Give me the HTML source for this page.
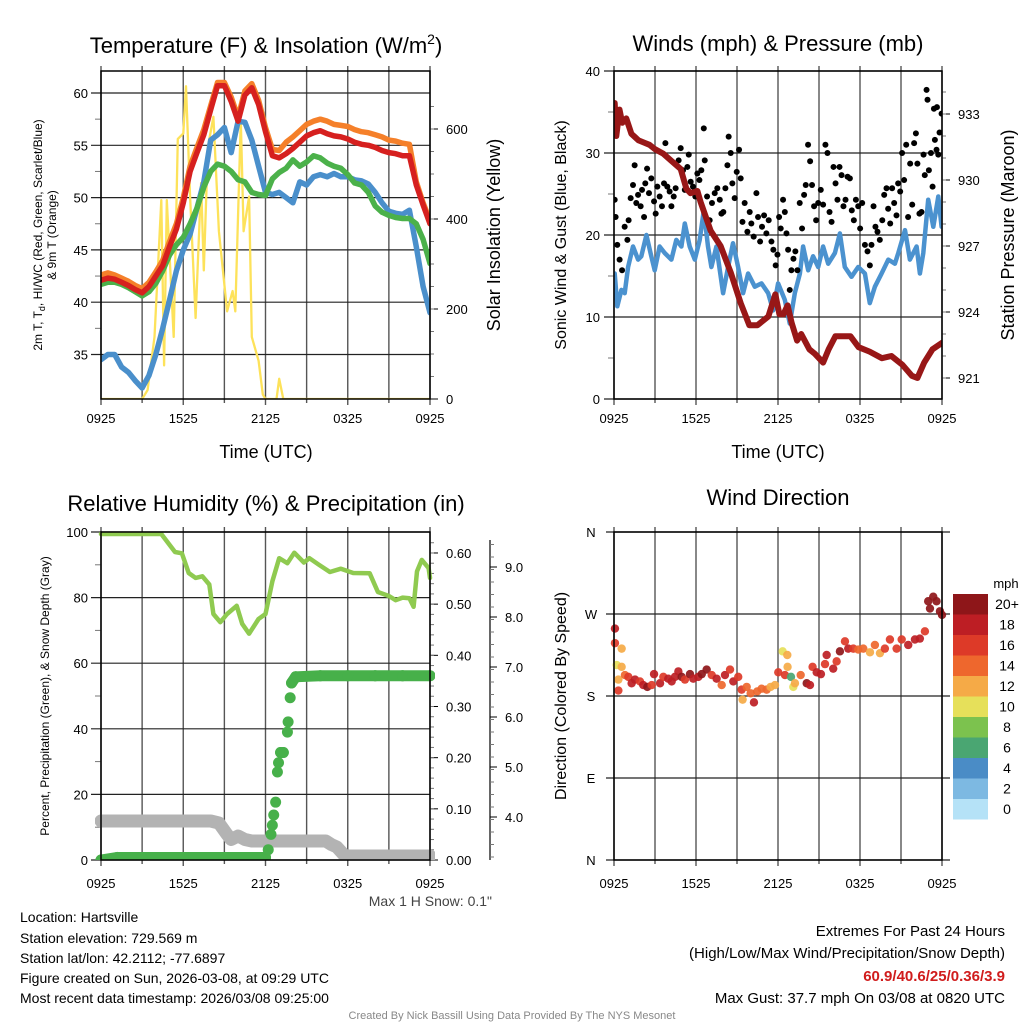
<!DOCTYPE html>
<html><head><meta charset="utf-8"><title>Mesonet Station Plots</title>
<style>
html,body{margin:0;padding:0;background:#fff;}
svg{display:block;font-family:"Liberation Sans",Arial,sans-serif;}
</style></head>
<body>
<svg id="chart" xmlns="http://www.w3.org/2000/svg" width="1024" height="1024" viewBox="0 0 1024 1024">
<rect x="0" y="0" width="1024" height="1024" fill="#fff"/>
<defs>
<clipPath id="c1"><rect x="101" y="71" width="329" height="328"/></clipPath>
<clipPath id="c2"><rect x="614" y="71" width="328" height="328"/></clipPath>
<clipPath id="c3"><rect x="95" y="532" width="340" height="328"/></clipPath>
<clipPath id="c4"><rect x="608" y="532" width="340" height="328"/></clipPath>
</defs>
<text x="266" y="53" font-size="22" text-anchor="middle">Temperature (F) &amp; Insolation (W/m<tspan font-size="14" dy="-9">2</tspan><tspan dy="9">)</tspan></text>
<text x="778" y="51" font-size="22" text-anchor="middle">Winds (mph) &amp; Pressure (mb)</text>
<text x="266" y="511" font-size="22" text-anchor="middle">Relative Humidity (%) &amp; Precipitation (in)</text>
<text x="778" y="505" font-size="22" text-anchor="middle">Wind Direction</text>

<text x="266" y="458" font-size="18" text-anchor="middle">Time (UTC)</text>
<text x="778" y="458" font-size="18" text-anchor="middle">Time (UTC)</text>

<text transform="translate(42,235) rotate(-90)" font-size="12" text-anchor="middle">2m T, T<tspan font-size="9" dy="3">d</tspan><tspan dy="-3">, HI/WC (Red, Green, Scarlet/Blue)</tspan></text>
<text transform="translate(56,235) rotate(-90)" font-size="12" text-anchor="middle">&amp; 9m T (Orange)</text>
<text transform="translate(500,235) rotate(-90)" font-size="18" text-anchor="middle">Solar Insolation (Yellow)</text>
<text transform="translate(566,235) rotate(-90)" font-size="16" text-anchor="middle">Sonic Wind &amp; Gust (Blue, Black)</text>
<text transform="translate(1014,235) rotate(-90)" font-size="18" text-anchor="middle">Station Pressure (Maroon)</text>
<text transform="translate(49,696) rotate(-90)" font-size="12" text-anchor="middle">Percent, Precipitation (Green), &amp; Snow Depth (Gray)</text>
<text transform="translate(566,696) rotate(-90)" font-size="16" text-anchor="middle">Direction (Colored By Speed)</text>

<text x="492" y="906" font-size="14" fill="#444" text-anchor="end">Max 1 H Snow: 0.1"</text>

<g font-size="14">
<text x="20" y="922">Location: Hartsville</text>
<text x="20" y="943">Station elevation: 729.569 m</text>
<text x="20" y="963">Station lat/lon: 42.2112; -77.6897</text>
<text x="20" y="983">Figure created on Sun, 2026-03-08, at 09:29 UTC</text>
<text x="20" y="1003">Most recent data timestamp: 2026/03/08 09:25:00</text>
</g>
<g font-size="15" text-anchor="end">
<text x="1005" y="936">Extremes For Past 24 Hours</text>
<text x="1005" y="958">(High/Low/Max Wind/Precipitation/Snow Depth)</text>
<text x="1005" y="981" fill="#d01c1c" font-weight="bold">60.9/40.6/25/0.36/3.9</text>
<text x="1005" y="1003">Max Gust: 37.7 mph On 03/08 at 0820 UTC</text>
</g>
<text x="512" y="1019" font-size="11" fill="#888" text-anchor="middle">Created By Nick Bassill Using Data Provided By The NYS Mesonet</text>

<g id="g1"></g>
<g id="g2"></g>
<g id="g3"></g>
<g id="g4"></g>
</svg>
<script>
// ---------- data ----------
const xTickLabels = ["0925","1525","2125","0325","0925"];
const tempHours = [0,0.5,1,1.5,2,2.5,3,3.5,4,4.5,5,5.5,6,6.5,7,7.5,8,8.5,9,9.5,10,10.5,11,11.5,12,12.5,13,13.5,14,14.5,15,15.5,16,16.5,17,17.5,18,18.5,19,19.5,20,20.5,21,21.5,22,22.5,23,23.5,24];
const tempRed = [42.1,42.3,42.2,41.9,41.6,41.2,40.9,41.5,42.5,43.5,45.3,47,49.5,52.5,54.3,56,58.4,60.7,60.7,59.2,57.3,59.8,60.5,58.9,56.3,54,53.8,54.2,54.7,55.3,55.9,56.2,56.4,56.1,55.9,55.8,55.6,55.3,55.1,55,54.8,54.5,54.3,54.2,54,54,51.2,49.3,47.5];
const tempOrange = [42.6,42.8,42.6,42.3,42,41.6,41.3,41.9,42.9,44,45.8,47.5,50,53,54.8,56.5,58.8,61,61,59.6,57.7,60.2,60.9,59.3,56.7,54.6,54.5,55.3,55.8,56.4,57,57.3,57.5,57.3,57,56.9,56.8,56.5,56.3,56.2,56,55.8,55.5,55.4,55.2,55.1,51.5,49.5,47.8];
const tempGreen = [41.7,41.9,41.9,41.7,41.4,41,40.6,41,41.8,43,44.5,45.5,46.2,47.5,49,51,52.5,53.2,53,52.5,51.7,51.5,50.5,50.3,50.2,51.8,52.4,52.8,53.6,53,53.4,54,53.8,53.3,53,52.8,52.2,51.4,51.2,50.5,49.2,48.6,48.3,48.1,48,48,47.5,46,43.7];
const tempBlue = [34.5,35,35,33.8,33.3,32.5,31.8,33,35,37.5,40.2,43,45,46.5,49,51.5,55.5,56,56.7,54.3,57.3,57.2,55.5,53,50.5,50.3,50.5,50,49.5,51.5,51.2,52,52.2,52,52.3,52,52,51.7,51.6,51.3,50.5,49.5,48.7,48.5,48.4,48.8,45.3,41.5,39];
const solarHours = [0,3.0,3.1,3.4,3.9,4.4,4.6,4.8,5.3,5.6,6.0,6.2,6.5,6.9,7.3,7.5,7.8,8.2,8.6,9.2,9.6,9.8,10.2,10.4,10.8,11.0,11.5,11.8,12.0,12.8,13.0,13.3,24];
const solarValues = [0,0,5,20,138,442,75,442,138,578,590,695,450,180,480,286,560,627,373,195,240,195,620,373,450,138,85,10,0,0,45,0,0];
const tempTicks = [35,40,45,50,55,60];
const solarTicks = [0,200,400,600];

const windHours = [0.05,0.24,0.54,0.78,1.03,1.39,1.76,2.0,2.37,2.73,2.98,3.34,3.71,4.2,4.56,4.93,5.18,5.54,5.91,6.27,6.57,6.88,7.13,7.49,7.98,8.35,8.71,9.08,9.45,9.81,10.3,10.79,11.28,11.64,12.01,12.5,12.86,13.23,13.6,13.84,14.21,14.57,14.94,15.3,15.67,16.16,16.53,16.89,17.38,17.87,18.36,18.72,19.09,19.58,20.07,20.55,20.8,21.29,21.65,22.14,22.38,22.63,22.99,23.36,23.73,23.97];
const windSpeed = [15.3,11.3,13.3,12.9,16.1,18.6,17.0,17.4,20.0,17.4,15.7,18.6,17.8,17.0,19.4,18.6,21.4,18.6,17.0,19.4,23.0,18.6,16.1,18.6,12.9,16.1,19.0,16.1,12.9,15.3,13.7,14.1,12.9,10.8,14.1,12.1,9.2,12.9,15.3,18.6,15.7,17.4,16.1,18.6,16.5,17.8,20.2,16.1,14.9,16.1,15.3,11.7,13.7,15.3,17.0,16.5,17.8,20.6,17.0,18.6,15.3,17.8,24.3,21.0,24.7,21.0];
const gustHours = [0.05,0.12,0.24,0.41,0.59,0.78,0.98,1.07,1.22,1.39,1.51,1.63,1.76,1.95,2.05,2.2,2.29,2.42,2.56,2.73,2.93,3.05,3.17,3.34,3.51,3.66,3.76,3.9,4.07,4.2,4.37,4.51,4.73,4.88,5.05,5.18,5.37,5.47,5.61,5.78,5.95,6.1,6.25,6.39,6.57,6.64,6.81,7.0,7.17,7.37,7.56,7.74,7.86,8.0,8.15,8.3,8.39,8.54,8.66,8.83,8.98,9.15,9.27,9.4,9.56,9.76,9.93,10.05,10.22,10.42,10.54,10.69,10.83,10.98,11.15,11.32,11.52,11.66,11.83,11.96,12.08,12.2,12.37,12.5,12.62,12.74,12.86,12.98,13.13,13.27,13.42,13.59,13.76,13.91,14.03,14.2,14.35,14.49,14.64,14.79,14.94,15.13,15.3,15.47,15.62,15.77,15.92,16.06,16.21,16.35,16.5,16.65,16.79,16.94,17.09,17.26,17.4,17.55,17.7,17.87,18.01,18.16,18.36,18.55,18.72,18.84,18.99,19.13,19.28,19.45,19.63,19.77,19.94,20.06,20.21,20.35,20.5,20.67,20.79,20.94,21.08,21.23,21.38,21.52,21.67,21.82,21.96,22.09,22.2,22.35,22.5,22.65,22.74,22.87,22.94,23.04,23.19,23.31,23.41,23.48,23.63,23.73,23.82,23.97,23.6];
const gustSpeed = [24.3,22.2,18.8,17.0,15.7,21.0,19.4,21.8,24.5,26.1,28.5,23.9,24.9,23.5,25.5,22.2,26.3,28.1,25.1,26.9,24.1,22.6,25.9,24.7,23.5,26.3,31.2,25.9,25.3,23.5,24.7,25.7,29.1,30.6,27.9,25.5,28.3,29.8,26.5,25.9,24.7,27.5,26.7,27.9,33.0,29.1,24.7,21.8,23.9,25.1,25.7,24.3,22.6,22.8,25.7,28.5,32.0,30.0,26.3,24.5,27.7,30.4,26.9,21.6,23.9,20.4,22.8,21.4,19.8,25.1,22.2,19.2,21.0,22.4,20.2,21.8,19.2,18.2,16.3,17.6,22.2,20.8,24.3,22.8,20.2,18.2,13.3,15.7,17.1,18.0,15.7,23.9,20.8,24.9,26.1,31.0,29.0,26.1,23.5,21.8,23.9,25.5,23.7,31.0,30.0,22.8,21.6,28.3,26.3,24.3,28.3,27.3,23.5,24.3,27.1,26.9,23.0,21.8,24.3,23.5,20.8,23.9,18.8,18.0,16.3,18.8,23.5,21.0,20.4,19.4,21.8,24.9,25.7,23.2,21.4,25.7,23.9,22.4,26.3,25.3,30.0,26.7,31.0,22.2,28.7,23.7,31.2,32.4,28.7,22.6,22.8,29.8,27.3,37.7,36.5,27.9,30.0,25.9,35.4,31.6,35.6,29.8,32.5,34.8,30.4];
const presHours = [0.05,0.17,0.4,0.6,0.9,1.27,1.8,2.2,2.6,3.0,3.6,4.15,4.88,5.3,5.6,6.1,6.34,7.07,7.8,8.54,9.27,9.9,10.5,11.3,11.8,12.1,12.4,12.7,13.0,13.4,13.7,14.3,14.7,15.3,15.7,16.2,16.8,17.3,17.9,18.7,19.6,20.3,21.1,21.8,22.2,22.7,23.3,24];
const presValues = [933.5,932.0,933.2,932.6,932.8,932.1,931.8,931.7,931.6,931.4,931.2,930.9,930.5,929.6,929.4,929.5,929.0,927.7,927.0,925.8,924.4,923.4,923.4,923.8,924.8,923.9,923.9,924.3,923.5,922.7,923.0,922.3,922.1,921.7,922.3,922.9,922.9,922.9,922.4,922.2,921.9,922.0,921.6,921.1,921.0,921.7,922.3,922.6];
const windTicks = [0,10,20,30,40];
const presTicks = [921,924,927,930,933];

const rhHours = [0,4.4,5.4,5.9,6.4,6.9,7.4,7.9,8.2,8.7,9.2,9.9,10.3,10.8,11.5,12,12.5,13,13.6,14.1,14.8,15.2,15.9,16.7,17.5,18.4,19.6,20.2,21,21.5,22,22.5,22.8,23.05,23.4,23.9,24];
const rhValues = [99.4,99.4,93.9,93.5,87.5,86,86.5,84,75,72.5,75,77.5,72,69,73.5,75,85,92,90.5,93.7,90.7,92,90,87.8,88.8,87.5,87.4,81.7,80.5,79.2,80,79.8,77.2,88,91.5,89,86];
const precipHours = [0,1.2,3,6,9,12,12.2,12.4,12.5,12.6,12.74,12.87,12.95,13.1,13.3,13.6,13.65,13.8,13.9,14.2,16,18,20,22,24];
const precipValues = [0,0.005,0.005,0.005,0.005,0.005,0.02,0.05,0.068,0.088,0.113,0.172,0.19,0.21,0.21,0.25,0.27,0.317,0.346,0.358,0.36,0.36,0.36,0.36,0.36];
const snowHours = [0,8,8.6,9.2,9.5,10,10.5,11,16.4,16.8,17.2,17.8,24];
const snowValues = [3.92,3.92,3.88,3.65,3.55,3.62,3.55,3.52,3.52,3.45,3.4,3.22,3.22];
const rhTicks = [0,20,40,60,80,100];
const precipTicks = ["0.00","0.10","0.20","0.30","0.40","0.50","0.60"];
const snowTicks = ["4.0","5.0","6.0","7.0","8.0","9.0"];

const dirHours = [0.07,0.07,0.56,0.2,0.56,0.32,0.32,0.8,1.05,1.29,1.54,1.9,2.14,2.44,2.76,2.93,3.37,3.61,3.97,4.22,4.46,4.71,4.95,5.19,5.56,5.8,6.17,6.42,6.78,7.15,7.51,7.88,8.12,8.49,8.73,9.09,9.34,9.41,9.71,10.0,10.24,10.48,10.8,11.17,11.46,11.78,12.02,12.34,12.68,12.7,12.51,12.95,13.12,13.24,13.66,14.1,14.34,14.53,14.83,15.14,15.44,15.56,16.04,16.29,16.53,16.9,17.14,17.51,17.87,18.24,18.73,19.09,19.46,19.82,20.19,20.68,21.05,21.53,22.02,22.38,22.75,22.99,23.36,23.12,23.6,23.85,24.0];
const dirDegrees = [254,238,232,214,212,198,186,203,201,194,198,196,192,190,192,204,194,201,199,196,201,207,201,198,204,199,201,204,209,203,199,192,203,209,196,201,187,176,190,183,173,185,188,187,190,192,206,229,225,212,203,201,190,194,203,194,192,212,206,204,215,225,210,218,229,240,232,232,231,232,228,236,227,232,242,232,242,236,242,243,251,284,289,276,284,273,269];
const dirSpeed = [18,16,12,10,12,12,16,14,16,18,18,16,18,20,16,18,18,16,18,18,18,18,20,16,20,18,18,20,20,16,18,14,18,16,18,16,16,12,14,14,18,14,14,14,12,12,16,10,12,12,16,6,10,12,14,20,18,16,18,18,16,18,18,16,20,16,18,16,14,14,12,14,12,16,16,16,16,18,18,18,16,20,20,20,20,20,20];
const dirTicks = ["N","W","S","E","N"];
const speedBins = ["0","2","4","6","8","10","12","14","16","18","20+"];
const speedColors = ["#b5e2f7","#7db9e2","#4a8cc6","#4aa672","#7cc24e","#e6e05a","#f5aa47","#ee672d","#dd3a28","#bd1e24","#8e1619"];

// ---------- helpers ----------
const NS = "http://www.w3.org/2000/svg";
function mk(parent, tag, attrs){const e=document.createElementNS(NS,tag);for(const k in attrs)e.setAttribute(k,attrs[k]);parent.appendChild(e);return e;}
function txt(parent, x, y, s, size, anchor){const t=mk(parent,"text",{x:x,y:y,"font-size":size,"text-anchor":anchor});t.textContent=s;return t;}
const X1=h=>101+h*(329/24);
const X2=h=>614+h*(328/24);
const yT=v=>93+(60-v)*10.46;
const yS=w=>399-w*0.45;
const yW=m=>399-m*8.2;
const yP=p=>114+(933-p)*22;
const yRH=v=>860-v*3.28;
const yPr=v=>860-v*511.7;
const ySn=s=>817-(s-4)*50;
const yDir=i=>532+i*82;

function frame(g,x0,y0,w,h,xs,name,lblOff){
  const gridG=mk(g,"g",{});
  
  
  for(let i=0;i<=8;i++){const x=x0+i*w/8;
    const l=mk(gridG,"line",{x1:x,y1:y0-5,x2:x,y2:y0+h+(i%2===0?6:4),stroke:"#555","stroke-width":1.4});
    
    
  }
  for(let i=0;i<5;i++){
    const t=txt(g,x0+i*w/4,y0+h+lblOff,xTickLabels[i],13,"middle");
    
    
  }
  return gridG;
}
function hline(g,x0,x1,y){
  const l=mk(g,"line",{x1:x0,y1:y,x2:x1,y2:y,stroke:"#222","stroke-width":1.2});
  
  
}
function border(g,x,y,w,h){
  const r=mk(g,"rect",{x:x,y:y,width:w,height:h,fill:"none",stroke:"#000","stroke-width":1.5});
  
  
}
function poly(g,xs,ys,fx,fy,color,w,name,clip){
  const pts=xs.map((h,i)=>fx(h).toFixed(1)+","+fy(ys[i]).toFixed(1)).join(" ");
  const p=mk(g,"polyline",{points:pts,fill:"none",stroke:color,"stroke-width":w,"stroke-linejoin":"round","stroke-linecap":"round","clip-path":clip});
  
  
  return p;
}

// ---------- panel 1 ----------
const g1=document.getElementById("g1");
frame(g1,101,71,329,328,X1,"temp",24);
tempTicks.forEach(v=>{hline(g1,91,430,yT(v));
  const t=txt(g1,88,yT(v)+5,String(v),13,"end");
  
  });
[37.5,42.5,47.5,52.5,57.5].forEach(v=>{mk(g1,"line",{x1:95,x2:101,y1:yT(v),y2:yT(v),stroke:"#777"});});
solarTicks.forEach(v=>{mk(g1,"line",{x1:430,x2:438,y1:yS(v),y2:yS(v),stroke:"#000"});
  const t=txt(g1,446,yS(v)+5,String(v),13,"start");
  
  });
for(let v=50;v<=650;v+=50){mk(g1,"line",{x1:430,x2:434,y1:yS(v),y2:yS(v),stroke:"#777"});}
poly(g1,solarHours,solarValues,X1,yS,"#fde25a",2.3,"solar-line","url(#c1)");
poly(g1,tempHours,tempBlue,X1,yT,"#4a8fcb",5.5,"dewpoint-line","url(#c1)");
poly(g1,tempHours,tempGreen,X1,yT,"#4bb14a",5.5,"heat-index-line","url(#c1)");
poly(g1,tempHours,tempOrange,X1,yT,"#f5802a",5.5,"temp-9m-line","url(#c1)");
poly(g1,tempHours,tempRed,X1,yT,"#d6201f",5.5,"temp-2m-line","url(#c1)");
border(g1,101,71,329,328);

// ---------- panel 2 ----------
const g2=document.getElementById("g2");
frame(g2,614,71,328,328,X2,"winds",24);
windTicks.forEach(v=>{hline(g2,604,942,yW(v));
  const t=txt(g2,600,yW(v)+5,String(v),13,"end");
  
  });
[5,15,25,35].forEach(v=>{mk(g2,"line",{x1:608,x2:614,y1:yW(v),y2:yW(v),stroke:"#777"});});
presTicks.forEach(v=>{mk(g2,"line",{x1:942,x2:950,y1:yP(v),y2:yP(v),stroke:"#000"});
  const t=txt(g2,958,yP(v)+5,String(v),13,"start");
  
  });
for(let v=920;v<=935;v++){if(yP(v)>71&&yP(v)<399)mk(g2,"line",{x1:942,x2:946,y1:yP(v),y2:yP(v),stroke:"#777"});}
poly(g2,windHours,windSpeed,X2,yW,"#4b92cf",4.5,"sonic-wind-line","url(#c2)");
gustHours.forEach((h,i)=>{
  const c=mk(g2,"circle",{cx:X2(h),cy:yW(gustSpeed[i]),r:3,fill:"#000","clip-path":"url(#c2)"});
  
  
});
poly(g2,presHours,presValues,X2,yP,"#981717",6,"pressure-line","url(#c2)");
border(g2,614,71,328,328);

// ---------- panel 3 ----------
const g3=document.getElementById("g3");
frame(g3,101,532,329,328,X1,"humidity",28);
rhTicks.forEach(v=>{hline(g3,91,430,yRH(v));
  const t=txt(g3,88,yRH(v)+5,String(v),13,"end");
  
  });
[10,30,50,70,90].forEach(v=>{mk(g3,"line",{x1:95,x2:101,y1:yRH(v),y2:yRH(v),stroke:"#777"});});
precipTicks.forEach(s=>{const v=parseFloat(s);mk(g3,"line",{x1:430,x2:438,y1:yPr(v),y2:yPr(v),stroke:"#000"});
  const t=txt(g3,446,yPr(v)+5,s,13,"start");
  
  });
for(let v=0.02;v<0.64;v+=0.02){mk(g3,"line",{x1:430,x2:434,y1:yPr(v),y2:yPr(v),stroke:"#777"});}
const snowAxis=mk(g3,"line",{x1:490,x2:490,y1:540,y2:860,stroke:"#000","stroke-width":1.2});


snowTicks.forEach(s=>{const v=parseFloat(s);mk(g3,"line",{x1:490,x2:497,y1:ySn(v),y2:ySn(v),stroke:"#000"});
  const t=txt(g3,505,ySn(v)+5,s,13,"start");
  
  });
for(let v=3.2;v<=9.6;v+=0.25){mk(g3,"line",{x1:490,x2:494,y1:ySn(v),y2:ySn(v),stroke:"#777"});}
poly(g3,snowHours,snowValues,X1,ySn,"#b3b3b3",13,"snow-depth-line","url(#c3)");
poly(g3,rhHours,rhValues,X1,yRH,"#8fca50",4.5,"humidity-line","url(#c3)");
for(let i=1;i<precipHours.length;i++){
  if(Math.abs(precipValues[i]-precipValues[i-1])<0.015){
    const l=mk(g3,"line",{x1:X1(precipHours[i-1]),y1:yPr(precipValues[i-1]),x2:X1(precipHours[i]),y2:yPr(precipValues[i]),stroke:"#47b04a","stroke-width":11,"stroke-linecap":"round","clip-path":"url(#c3)"});
    
    
  }
}
precipHours.forEach((h,i)=>{
  const c=mk(g3,"circle",{cx:X1(h),cy:yPr(precipValues[i]),r:5.5,fill:"#47b04a","clip-path":"url(#c3)"});
  
  
});
border(g3,101,532,329,328);

// ---------- panel 4 ----------
const g4=document.getElementById("g4");
frame(g4,614,532,328,328,X2,"direction",28);
dirTicks.forEach((s,i)=>{hline(g4,606,950,yDir(i));
  const t=txt(g4,591,yDir(i)+5,s,13,"middle");
  
  });
dirHours.forEach((h,i)=>{
  const bin=Math.min(10,Math.round(dirSpeed[i]/2));
  const c=mk(g4,"circle",{cx:X2(h),cy:860-dirDegrees[i]*328/360,r:4.2,fill:speedColors[bin],"fill-opacity":0.92,"clip-path":"url(#c4)"});
  
  
});
border(g4,614,532,328,328);
const mph=txt(g4,1006,588,"mph",13,"middle");


speedBins.forEach((s,i)=>{
  const y=594+(10-i)*20.5;
  const r=mk(g4,"rect",{x:953,y:y,width:35,height:20.5,fill:speedColors[i]});
  
  
  const t=txt(g4,1007,y+15,s,14,"middle");
  
  
});
</script>
</body></html>
